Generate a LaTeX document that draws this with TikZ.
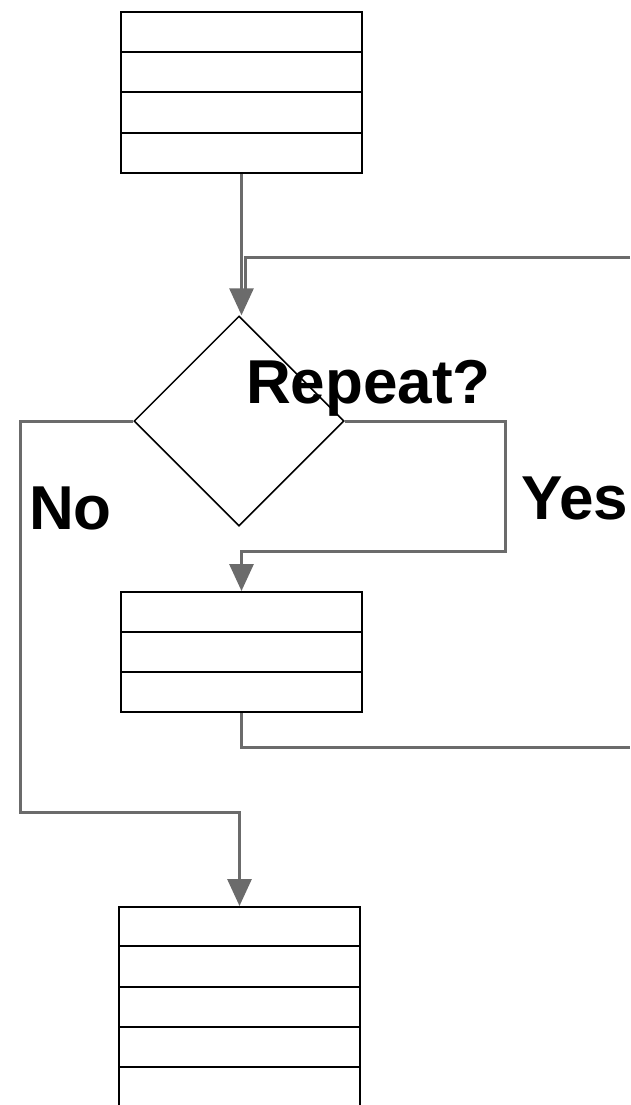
\documentclass[tikz,border=0pt]{standalone}
\usepackage{fontspec}
\setmainfont{Liberation Sans}
\usetikzlibrary{shapes.geometric,arrows.meta,calc}
\definecolor{flowgray}{HTML}{6B6B6B}
\tikzset{
  x=1pt, y=-1pt,
  stack/.style={draw=black, line width=2pt, rectangle, inner sep=0pt, minimum width=241pt},
  decision/.style={draw=black, line width=1.5pt, diamond, aspect=1, inner sep=0pt, minimum width=210pt, minimum height=210pt},
  flow/.style={draw=flowgray, line width=3pt},
  flowarrow/.style={flow, -{Triangle[width=24pt,length=27pt]}},
  rowline/.style={draw=black, line width=2pt},
  label/.style={font=\bfseries\fontsize{62}{62}\selectfont, inner sep=0pt, anchor=base west}
}
\begin{document}
\begin{tikzpicture}
\clip (0,0) rectangle (630,1105);
\fill[white] (0,0) rectangle (630,1105);

% blocks
\node[stack, minimum height=161pt, anchor=north west] (top) at (120,11) {};
\node[decision] (dec) at (239,421) {};
\node[stack, minimum height=120pt, anchor=north west] (mid) at (120,591) {};
\node[stack, minimum height=240pt, anchor=north west] (bot) at (118,906) {};

% row separators
\foreach \f in {0.25,0.5,0.75}
  \draw[rowline] ($(top.north west)!\f!(top.south west)$) -- ($(top.north east)!\f!(top.south east)$);
\foreach \f in {0.3333,0.6667}
  \draw[rowline] ($(mid.north west)!\f!(mid.south west)$) -- ($(mid.north east)!\f!(mid.south east)$);
\foreach \f in {0.1667,0.3333,0.5,0.6667}
  \draw[rowline] ($(bot.north west)!\f!(bot.south west)$) -- ($(bot.north east)!\f!(bot.south east)$);

% loose ends leaving the right edge
\coordinate (loopin) at (630,257);
\coordinate (loopout) at (630,747);

% connectors
\draw[flowarrow] (top.south) -- (top.south |- dec.north);
\draw[flow] (loopin) -| (245,292);
\draw[flowarrow] (dec.east) -- (505,421) -- (505,551) -| (mid.north);
\draw[flowarrow] (dec.west) -- (20,421) -- (20,812) -| (bot.north);
\draw[flow] (mid.south) |- (loopout);

% labels
\node[label] (rep) at (246,403) {Repeat?};
\node[label] (no) at (29,529) {No};
\node[label] (yes) at (521,519) {Yes};
\end{tikzpicture}
\end{document}
